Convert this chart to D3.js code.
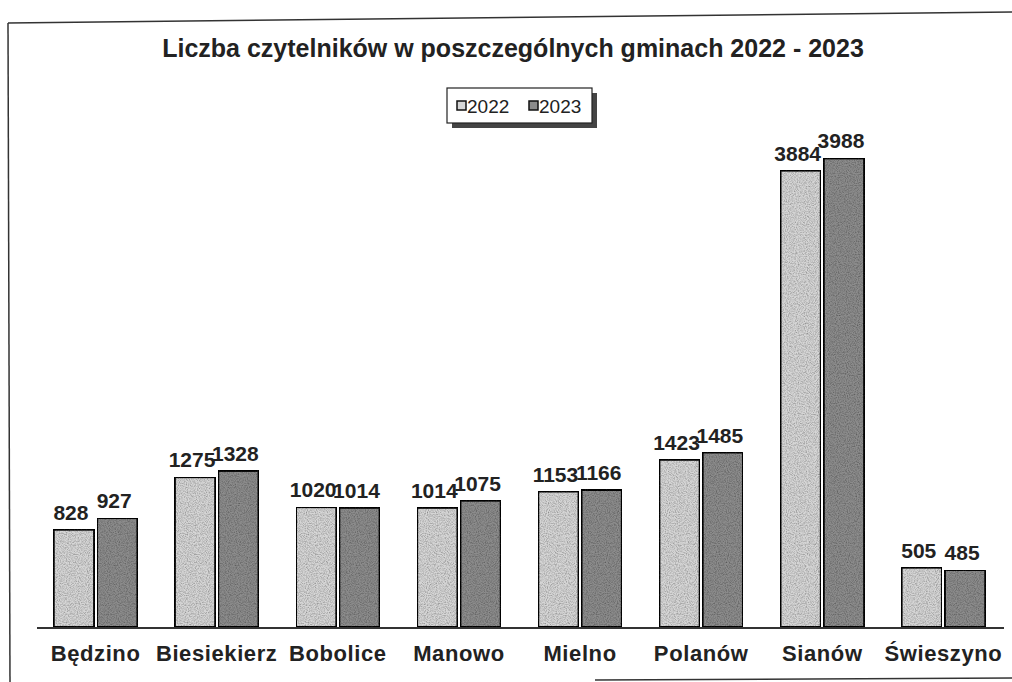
<!DOCTYPE html>
<html>
<head>
<meta charset="utf-8">
<script src="https://cdn.jsdelivr.net/npm/d3@7"></script>
<style>
  body { margin: 0; background: #fff; }
  svg { display: block; font-family: "Liberation Sans", Arial, sans-serif; }
</style>
</head>
<body>
<div id="chart"></div>
<script>
/**
 * DATA
 * */
const categories = ["Będzino", "Biesiekierz", "Bobolice", "Manowo", "Mielno", "Polanów", "Sianów", "Świeszyno"];
const years = ["2022", "2023"];
const values2022 = [828, 1275, 1020, 1014, 1153, 1423, 3884, 505];
const values2023 = [927, 1328, 1014, 1075, 1166, 1485, 3988, 485];
const title = "Liczba czytelników w poszczególnych gminach 2022 - 2023";

/**
 * CONSTANTS
 * */
const width = 1012,
  height = 682,
  margin = { top: 157, bottom: 55, left: 35, right: 8 };
const colors = { "2022": "#d6d6d6", "2023": "#8c8c8c" };

const svg = d3.select("#chart")
  .append("svg")
  .attr("width", width)
  .attr("height", height);

// grain filter to mimic the scanned speckle
const defs = svg.append("defs");
const grain = defs.append("filter").attr("id", "grain")
  .attr("x", 0).attr("y", 0).attr("width", 1).attr("height", 1);
grain.append("feTurbulence")
  .attr("type", "fractalNoise").attr("baseFrequency", 0.9)
  .attr("numOctaves", 2).attr("seed", 3).attr("result", "noise");
grain.append("feColorMatrix")
  .attr("in", "noise").attr("type", "matrix")
  .attr("values", "0 0 0 0 0  0 0 0 0 0  0 0 0 0 0  0 0 0 1.1 -0.4")
  .attr("result", "dots");
grain.append("feComposite")
  .attr("in", "dots").attr("in2", "SourceGraphic").attr("operator", "in")
  .attr("result", "clipped");
const merge = grain.append("feMerge");
merge.append("feMergeNode").attr("in", "SourceGraphic");
merge.append("feMergeNode").attr("in", "clipped");

// scanned frame
const frame = svg.append("g").attr("stroke", "#333").attr("stroke-width", 1.5).attr("fill", "none");
frame.append("line").attr("x1", 8).attr("y1", 23).attr("x2", 1012).attr("y2", 12);
frame.append("line").attr("x1", 8).attr("y1", 23).attr("x2", 10).attr("y2", 682);
frame.append("line").attr("x1", 595).attr("y1", 680).attr("x2", 1012).attr("y2", 678);

/**
 * SCALES
 * */
const x0 = d3.scaleBand()
  .domain(categories)
  .range([margin.left, width - margin.right])
  .paddingInner(0.26)
  .paddingOuter(0.13);

const x1 = d3.scaleBand()
  .domain(years)
  .range([0, x0.bandwidth()])
  .padding(0.07);

const y = d3.scaleLinear()
  .domain([0, 4000])
  .range([height - margin.bottom, margin.top]);

const rows = categories.map((c, i) => ({
  name: c,
  vals: [{ year: "2022", v: values2022[i] }, { year: "2023", v: values2023[i] }]
}));

/**
 * TITLE
 * */
svg.append("text")
  .attr("x", 513)
  .attr("y", 57)
  .attr("text-anchor", "middle")
  .attr("font-size", 25)
  .attr("font-weight", "bold")
  .attr("fill", "#222")
  .text(title);

/**
 * LEGEND
 * */
const legend = svg.append("g").attr("transform", "translate(447,88)");
legend.append("rect").attr("x", 5).attr("y", 5).attr("width", 145).attr("height", 35).attr("fill", "#444");
legend.append("rect").attr("width", 145).attr("height", 35).attr("fill", "#fff").attr("stroke", "#222").attr("stroke-width", 1.2);
years.forEach((yr, i) => {
  const g = legend.append("g").attr("transform", `translate(${10 + i * 72},0)`);
  g.append("rect").attr("x", 0).attr("y", 13).attr("width", 9).attr("height", 9)
    .attr("fill", colors[yr]).attr("stroke", "#111").attr("stroke-width", 1.5);
  g.append("text").attr("x", 10).attr("y", 25).attr("font-size", 19).attr("fill", "#222").text(yr);
});

/**
 * BARS
 * */
const groups = svg.selectAll("g.group")
  .data(rows)
  .join("g")
  .attr("class", "group")
  .attr("transform", d => `translate(${x0(d.name)},0)`);

groups.selectAll("rect")
  .data(d => d.vals)
  .join("rect")
  .attr("x", d => x1(d.year))
  .attr("y", d => y(d.v))
  .attr("width", x1.bandwidth())
  .attr("height", d => y(0) - y(d.v))
  .attr("fill", d => colors[d.year])
  .attr("stroke", "#111")
  .attr("stroke-width", 2)
  .attr("filter", "url(#grain)");

groups.selectAll("text.val")
  .data(d => d.vals)
  .join("text")
  .attr("class", "val")
  .attr("x", d => x1(d.year) + x1.bandwidth() / 2 - 3)
  .attr("y", d => y(d.v) - 10)
  .attr("text-anchor", "middle")
  .attr("font-size", 21)
  .attr("font-weight", "bold")
  .attr("fill", "#222")
  .text(d => d.v);

// baseline
svg.append("line")
  .attr("x1", 37).attr("x2", 1004)
  .attr("y1", y(0) + 1).attr("y2", y(0) + 1)
  .attr("stroke", "#333").attr("stroke-width", 2);

// category axis labels
const xAxis = svg.append("g")
  .attr("transform", `translate(0,${y(0)})`)
  .call(d3.axisBottom(x0).tickSize(0).tickPadding(18));
xAxis.select(".domain").remove();
xAxis.selectAll("text")
  .attr("font-size", 22)
  .attr("font-weight", "bold")
  .attr("letter-spacing", 0.6)
  .attr("fill", "#222")
  .style("font-family", "'Liberation Sans', Arial, sans-serif");
</script>
</body>
</html>
